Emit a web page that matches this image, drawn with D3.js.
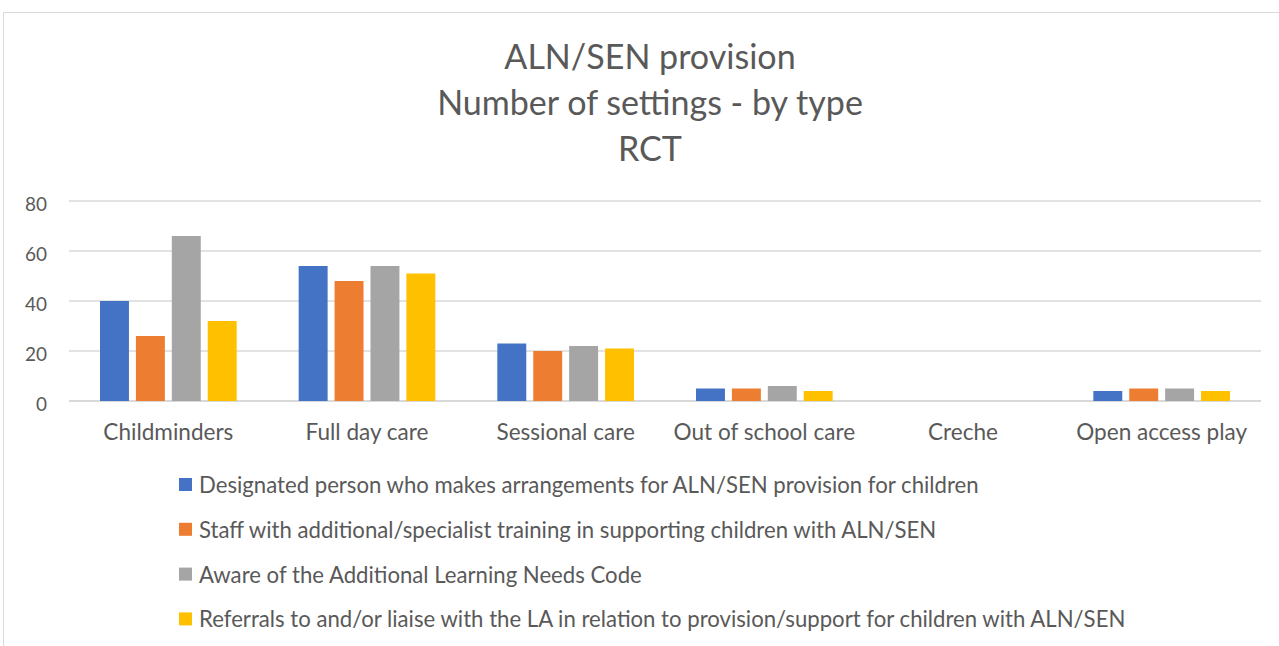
<!DOCTYPE html>
<html><head><meta charset="utf-8">
<script src="https://cdn.jsdelivr.net/npm/d3@7/dist/d3.min.js"></script>
<style>
body{margin:0;background:#fff;overflow:hidden}
svg text{font-family:Lato,"Open Sans",sans-serif;fill:#595959}
</style></head>
<body><svg id="c" width="1279" height="646"></svg>
<script>
const titleLines = ["ALN/SEN provision", "Number of settings - by type", "RCT"];
const categories = ["Childminders", "Full day care", "Sessional care", "Out of school care", "Creche", "Open access play"];
const seriesNames = [
  "Designated person who makes arrangements for ALN/SEN provision for children",
  "Staff with additional/specialist training in supporting children with ALN/SEN",
  "Aware of the Additional Learning Needs Code",
  "Referrals to and/or liaise with the LA in relation to provision/support for children with ALN/SEN"
];
const designated = [40, 54, 23, 5, 0, 4];
const staffTrained = [26, 48, 20, 5, 0, 5];
const awareCode = [66, 54, 22, 6, 0, 5];
const referrals = [32, 51, 21, 4, 0, 4];
const yTicks = [0, 20, 40, 60, 80];
const colors = ["#4472C4", "#ED7D31", "#A5A5A5", "#FFC000"];

const seriesValues = [designated, staffTrained, awareCode, referrals];
const svg = d3.select("#c");

// frame
svg.append("path").attr("d", "M3.5,646 V12.5 H1279").attr("fill", "none").attr("stroke", "#D9D9D9").attr("stroke-width", 1);

const x0 = d3.scaleBand().domain(categories).range([69, 1261]).padding(0);
const x1 = d3.scaleBand().domain(d3.range(seriesNames.length)).range([31, x0.bandwidth() - 31]).paddingInner(0.194).paddingOuter(0);
const y = d3.scaleLinear().domain([0, 80]).range([401, 201]);

function fit(sel, refIdx, target) {
  const nodes = sel.nodes();
  const base = 20;
  sel.style("font-size", base + "px");
  const w = nodes[refIdx].getComputedTextLength();
  const fs = base * target / w;
  sel.style("font-size", fs + "px");
  return fs;
}

// title
const t = svg.append("g").selectAll("text").data(titleLines).join("text")
  .attr("x", 650).attr("y", (d, i) => 57 + i * 46).attr("dy", "0.36em")
  .attr("text-anchor", "middle").text(d => d);
fit(t, 1, 426);

// gridlines
const grid = svg.append("g");
grid.selectAll("line").data(yTicks).join("line")
  .attr("x1", 69).attr("x2", 1261).attr("y1", d => y(d)).attr("y2", d => y(d))
  .attr("stroke", "#D9D9D9").attr("stroke-width", d => d === 0 ? 2 : 1.5);

// y axis labels
const yAxis = d3.axisLeft(y).tickValues(yTicks).tickSize(0).tickPadding(0);
const ya = svg.append("g").attr("transform", "translate(47,0)").call(yAxis);
ya.select(".domain").remove();
ya.selectAll("text").attr("dy", "0.36em").attr("fill", "#595959").style("font-family", "Lato");
fit(ya.selectAll("text"), 4, 22);
ya.selectAll(".tick").attr("transform", d => `translate(0,${y(d) + 3})`);

// bars
const groups = svg.append("g").selectAll("g").data(categories).join("g")
  .attr("transform", d => `translate(${x0(d)},0)`);
groups.selectAll("rect").data((c, ci) => seriesValues.map((s, si) => ({si, v: s[ci]})))
  .join("rect")
  .attr("x", d => x1(d.si)).attr("width", x1.bandwidth())
  .attr("y", d => y(d.v)).attr("height", d => y(0) - y(d.v))
  .attr("fill", d => colors[d.si]);

// x axis labels
const xAxis = d3.axisBottom(x0).tickSize(0).tickPadding(0);
const xa = svg.append("g").attr("transform", "translate(0,432)").call(xAxis);
xa.select(".domain").remove();
xa.selectAll("text").attr("dy", "0.36em").attr("fill", "#595959").style("font-family", "Lato");
fit(xa.selectAll("text"), 0, 130);

// legend
const lg = svg.append("g").selectAll("g").data(seriesNames).join("g")
  .attr("transform", (d, i) => `translate(179,${485 + i * 44.8})`);
lg.append("rect").attr("x", 0).attr("y", -7).attr("width", 13).attr("height", 13).attr("fill", (d, i) => colors[i]);
const lt = lg.append("text").attr("x", 20).attr("y", 0).attr("dy", "0.36em").text(d => d);
fit(lt, 0, 780);
</script></body></html>
